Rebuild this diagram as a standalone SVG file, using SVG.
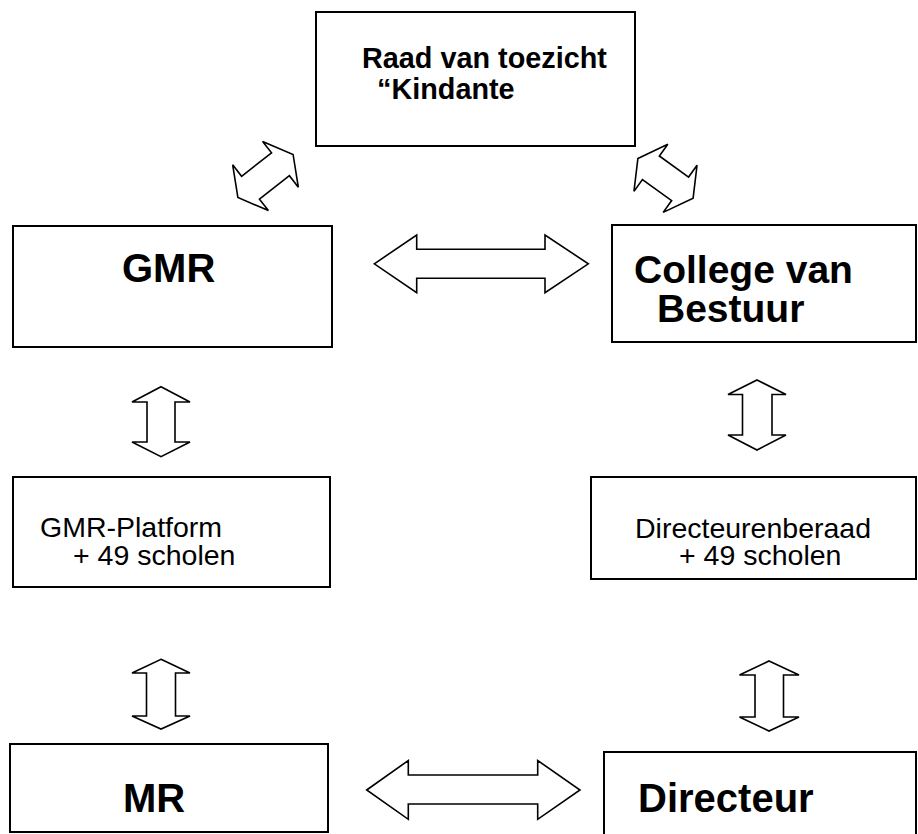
<svg xmlns="http://www.w3.org/2000/svg" width="918" height="834" viewBox="0 0 918 834">
<style>
.box{fill:#fff;stroke:#000;stroke-width:2}
.arr{fill:#fff;stroke:#000;stroke-width:1.6;stroke-linejoin:miter}
.b{font-family:"Liberation Sans",Arial,sans-serif;font-weight:bold;fill:#000}
.r{font-family:"Liberation Sans",Arial,sans-serif;fill:#000}
</style>
<rect width="918" height="834" fill="#fff"/>
<g id="raad">
<rect class="box" x="316" y="12" width="319" height="134"/>
<text class="b" x="362" y="68" font-size="28.8">Raad van toezicht</text>
<text class="b" x="377" y="99" font-size="28.8">“Kindante</text>
</g>
<g id="gmr">
<rect class="box" x="13" y="226" width="319" height="121"/>
<text class="b" x="122" y="282" font-size="40">GMR</text>
</g>
<g id="college">
<rect class="box" x="612" y="225" width="304" height="117"/>
<text class="b" x="634" y="283" font-size="39">College van</text>
<text class="b" x="657" y="322" font-size="39">Bestuur</text>
</g>
<g id="gmrplatform">
<rect class="box" x="13" y="477" width="317" height="110"/>
<text class="r" x="40" y="537" font-size="28.5">GMR-Platform</text>
<text class="r" x="73" y="565" font-size="28.5">+ 49 scholen</text>
</g>
<g id="directeurenberaad">
<rect class="box" x="591" y="477" width="325" height="102"/>
<text class="r" x="635" y="538" font-size="28.5">Directeurenberaad</text>
<text class="r" x="679" y="565" font-size="28.5">+ 49 scholen</text>
</g>
<g id="mr">
<rect class="box" x="10" y="744" width="318" height="88"/>
<text class="b" x="123" y="812" font-size="40">MR</text>
</g>
<g id="directeur">
<rect class="box" x="604" y="752" width="312" height="90"/>
<text class="b" x="638" y="812" font-size="40">Directeur</text>
</g>
<g id="connectors">
<polygon class="arr" transform="translate(265.5,176) rotate(-38)" points="-35,0 -19,-29 -19,-14.5 19,-14.5 19,-29 35,0 19,29 19,14.5 -19,14.5 -19,29"/>
<polygon class="arr" transform="translate(665.5,178.3) rotate(35.7)" points="-34,0 -18,-29 -18,-14.5 18,-14.5 18,-29 34,0 18,29 18,14.5 -18,14.5 -18,29"/>
<polygon class="arr" points="374.3,263.8 416.7,235 416.7,249.3 545,249.3 545,235 588.3,263.8 545,292.7 545,278.3 416.7,278.3 416.7,292.7"/>
<polygon class="arr" points="366.7,790 408.3,760.5 408.3,775 537.7,775 537.7,760.5 580,790 537.7,819.3 537.7,804 408.3,804 408.3,819.3"/>
<polygon class="arr" points="161,386.7 190,402 175,402 175,442 190,442 161,456.7 132,442 147,442 147,402 132,402"/>
<polygon class="arr" points="757,380 786,394.5 772,394.5 772,435 786,435 757,450 728,435 742.5,435 742.5,394.5 728,394.5"/>
<polygon class="arr" points="161,659.3 190,673 175.5,673 175.5,716 190,716 161,729 132,716 146.5,716 146.5,673 132,673"/>
<polygon class="arr" points="769,661 799,675 783.5,675 783.5,717 799,717 769,731 739.5,717 755,717 755,675 739.5,675"/>
</g>
</svg>
